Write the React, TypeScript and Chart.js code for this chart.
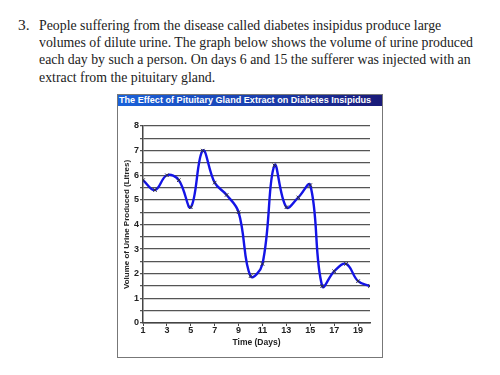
import React, { useEffect, useLayoutEffect, useRef } from "react";
import { Chart, registerables } from "chart.js";

Chart.register(...registerables);

const days = [1, 2, 3, 4, 5, 6, 7, 8, 9, 10, 11, 12, 13, 14, 15, 16, 17, 18, 19, 20];
const urineVolume = [5.8, 5.4, 6.0, 5.8, 4.7, 7.0, 5.7, 5.2, 4.5, 1.9, 2.4, 6.4, 4.7, 5.1, 5.6, 1.5, 2.1, 2.4, 1.7, 1.5];
const xTickLabels = [1, 3, 5, 7, 9, 11, 13, 15, 17, 19];
const yTickLabels = [0, 1, 2, 3, 4, 5, 6, 7, 8];

const questionLines = [
  "People suffering from the disease called diabetes insipidus produce large",
  "volumes of dilute urine. The graph below shows the volume of urine produced",
  "each day by such a person. On days 6 and 15 the sufferer was injected with an",
  "extract from the pituitary gland.",
];

export default function App() {
  const canvasRef = useRef<HTMLCanvasElement>(null);
  const textRef = useRef<HTMLDivElement>(null);

  useLayoutEffect(() => {
    const el = textRef.current;
    if (!el) return;
    const second = el.children[1] as HTMLElement;
    const w = second.getBoundingClientRect().width;
    if (w > 0) {
      el.style.transform = `scaleX(${434 / w})`;
    }
  }, []);

  useEffect(() => {
    const ctx = canvasRef.current!.getContext("2d")!;
    const tickFont = { family: "Arial, 'Liberation Sans', sans-serif", size: 9, weight: "bold" as const };
    const chart = new Chart(ctx, {
      type: "line",
      data: {
        datasets: [
          {
            data: days.map((d, i) => ({ x: d, y: urineVolume[i] })),
            borderColor: "#1414e6",
            borderWidth: 2.4,
            tension: 0.4,
            pointStyle: "crossRot",
            pointRadius: 2.5,
            pointBorderColor: "#333",
            pointBorderWidth: 1,
            fill: false,
          },
        ],
      },
      options: {
        animation: false,
        responsive: false,
        maintainAspectRatio: false,
        layout: { padding: { top: 20, right: 12, left: 0, bottom: 9 } },
        plugins: { legend: { display: false }, tooltip: { enabled: false }, title: { display: false } },
        scales: {
          x: {
            type: "linear",
            min: 1,
            max: 20,
            afterBuildTicks: (s: any) => {
              s.ticks = xTickLabels.map((v) => ({ value: v }));
            },
            afterFit: (s: any) => {
              s.height = 25;
            },
            grid: { display: true, drawOnChartArea: false, drawTicks: true, tickLength: 3, color: "#444", lineWidth: 1 },
            border: { display: true, color: "#444", width: 1.5 },
            ticks: { font: tickFont, color: "#222", padding: -1, maxRotation: 0, autoSkip: false },
            title: {
              display: true,
              text: "Time (Days)",
              font: { family: "Arial, 'Liberation Sans', sans-serif", size: 8.5, weight: "bold" },
              color: "#222",
              padding: { top: 1, bottom: 0 },
            },
          },
          y: {
            min: 0,
            max: 8,
            afterBuildTicks: (s: any) => {
              const t: any[] = [];
              for (let v = 0; v <= 8; v += 0.5) t.push({ value: v });
              s.ticks = t;
            },
            afterFit: (s: any) => {
              s.width = 25;
            },
            grid: { color: "#555", lineWidth: 1.3, tickLength: 3 },
            border: { display: true, color: "#444", width: 1.5 },
            ticks: {
              font: tickFont,
              color: "#222",
              padding: 1,
              autoSkip: false,
              callback: (v: any) => (yTickLabels.includes(Number(v)) ? String(v) : ""),
            },
            title: {
              display: true,
              text: "Volume of Urine Produced (Litres)",
              font: { family: "Arial, 'Liberation Sans', sans-serif", size: 8, weight: "bold" },
              color: "#222",
              padding: { top: 4, bottom: 0 },
            },
          },
        },
      },
    });
    return () => chart.destroy();
  }, []);

  return (
    <div style={{ position: "absolute", left: 0, top: 0, width: 500, height: 375, background: "#fff", overflow: "hidden" }}>
      <div
        style={{
          position: "absolute",
          left: 18,
          top: 16,
          fontFamily: "'Liberation Serif', 'Times New Roman', serif",
          fontSize: 15.5,
          lineHeight: "17.2px",
          color: "#222",
        }}
      >
        <span style={{ position: "absolute", left: 0, top: 0 }}>3.</span>
        <div ref={textRef} style={{ position: "absolute", left: 21, top: 0, whiteSpace: "nowrap", transformOrigin: "0 0" }}>
          {questionLines.map((l, i) => (
            <div key={i} style={{ width: "max-content" }}>{l}</div>
          ))}
        </div>
      </div>
      <div
        style={{
          position: "absolute",
          left: 117,
          top: 94,
          width: 264,
          height: 262,
          border: "1px solid #777",
          boxSizing: "content-box",
        }}
      >
        <div
          style={{
            height: 11,
            background: "linear-gradient(to right, #1a62da, #1a3aa8 60%, #1a1a78)",
            color: "#fff",
            fontFamily: "Arial, 'Liberation Sans', sans-serif",
            fontWeight: "bold",
            fontSize: 9.1,
            lineHeight: "11px",
            whiteSpace: "nowrap",
            overflow: "hidden",
            paddingLeft: 1,
          }}
        >
          The Effect of Pituitary Gland Extract on Diabetes Insipidus
        </div>
        <canvas ref={canvasRef} width={264} height={251} style={{ display: "block", width: 264, height: 251 }} />
      </div>
    </div>
  );
}
